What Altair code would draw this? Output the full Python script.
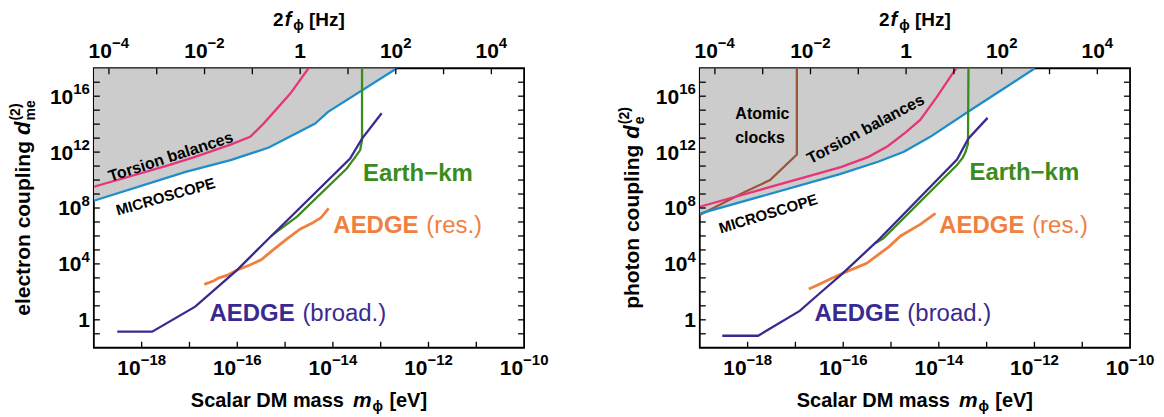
import altair as alt
import numpy as np
import pandas as pd

FONT = "Liberation Sans"

# ---------------- data (log10 values) ----------------
# left panel : electron coupling
L_micro_logm = [-19.0, -17.08, -16.14, -15.34, -14.37, -14.10, -12.66]
L_micro_logd = [8.52, 10.59, 11.42, 12.33, 14.04, 14.88, 18.0]
L_torsion_logm = [-19.0, -17.5, -16.93, -16.14, -15.73, -15.45, -15.17, -14.89, -14.51]
L_torsion_logd = [9.52, 11.0, 11.6, 12.54, 13.09, 14.04, 15.11, 16.19, 18.0]
L_earth_logm = [-15.3, -15.17, -14.75, -13.71, -13.53, -13.43, -13.39, -13.39]
L_earth_logd = [5.97, 6.31, 7.38, 10.83, 11.66, 12.14, 12.86, 18.0]
L_broad_logm = [-18.51, -17.78, -16.88, -16.0, -15.41, -13.64, -13.39, -12.98]
L_broad_logd = [-0.85, -0.85, 0.94, 3.57, 5.59, 11.54, 12.97, 14.78]
L_res_logm = [-16.69, -16.5, -16.38, -16.2, -16.0, -15.75, -15.5, -15.25, -14.96, -14.68, -14.44, -14.25, -14.09]
L_res_logd = [2.54, 2.78, 3.0, 3.2, 3.57, 3.9, 4.29, 5.0, 5.79, 6.5, 6.9, 7.3, 7.97]

# right panel : photon coupling
R_micro_logm = [-19.0, -16.07, -15.27, -14.73, -14.18, -13.38, -11.99]
R_micro_logd = [7.6, 10.42, 11.31, 12.02, 13.09, 14.9, 18.0]
R_torsion_logm = [-19.0, -16.05, -15.47, -15.07, -14.68, -14.39, -14.04, -13.69, -13.63]
R_torsion_logd = [8.09, 10.92, 11.66, 12.42, 13.45, 14.3, 15.95, 17.74, 18.0]
R_clocks_logm = [-19.0, -18.05, -17.53, -16.97, -16.97]
R_clocks_logd = [7.5, 9.16, 10.0, 11.83, 18.0]
R_earth_logm = [-15.32, -15.16, -13.62, -13.50, -13.44, -13.39, -13.38]
R_earth_logd = [5.5, 5.83, 11.07, 11.6, 12.02, 12.6, 18.0]
R_broad_logm = [-18.53, -17.78, -16.91, -16.49, -16.01, -15.30, -13.62, -13.38, -12.98]
R_broad_logd = [-1.14, -1.14, 0.64, 1.9, 3.33, 5.59, 11.47, 12.97, 14.45]
R_res_logm = [-16.72, -16.5, -16.25, -16.01, -15.75, -15.51, -15.25, -15.04, -14.8, -14.38, -14.07]
R_res_logd = [2.21, 2.55, 2.95, 3.33, 3.7, 4.04, 4.7, 5.24, 6.0, 6.85, 7.61]

# annotation anchors (log10 m, log10 d)
L_ann_text = ["Torsion balances", "MICROSCOPE", "Earth\u2212km"]
L_ann_logm = [-17.39, -17.5, -13.37]
L_ann_logd = [11.66, 8.81, 10.4]
R_ann_text = ["Atomic", "clocks", "Torsion balances", "MICROSCOPE", "Earth\u2212km"]
R_ann_logm = [-17.69, -17.74, -15.53, -17.57, -13.36]
R_ann_logd = [14.76, 13.02, 13.64, 7.59, 10.47]
L_aedge_logm = [-13.99, -16.58]   # (res.), (broad.) left edge
L_aedge_logd = [6.74, 0.4]
R_aedge_logm = [-13.99, -16.60]
R_aedge_logd = [6.74, 0.4]

# axes: tick values and label texts (base "10" + exponent)
x_tick_vals = [1e-18, 1e-16, 1e-14, 1e-12, 1e-10]
x_tick_exp = ["\u221218", "\u221216", "\u221214", "\u221212", "\u221210"]
f_tick_vals = [1e-4, 1e-2, 1.0, 1e2, 1e4]
f_tick_exp = ["\u22124", "\u22122", "", "2", "4"]
y_tick_vals = [1.0, 1e4, 1e8, 1e12, 1e16]
y_tick_exp = ["", "4", "8", "12", "16"]
x_minor_exp = list(range(-18, -10))
f_minor_exp = list(range(-4, 5))
y_minor_exp = list(range(-1, 18))

# axis titles: (text, font size, italic, baseline shift, gap before)
BOTTOM_TITLE = [("Scalar DM mass", 20, False, 0, 0), ("m", 21, True, 0, 9),
                ("\u03d5", 14, False, 4, 1), ("[eV]", 20, False, 0, 7)]
TOP_TITLE = [("2", 19, False, 0, 0), ("f", 20, True, 0, 1),
             ("\u03d5", 14, False, 4, 2), ("[Hz]", 19, False, 0, 6)]
L_YTITLE = ("electron coupling", "me")
R_YTITLE = ("photon coupling", "e")

TWO_OVER_H = 4.836e14   # 2 f [Hz] per eV of mass
W, H = 431, 280
BASE_FS, EXP_FS = 21, 15

C_PINK = "#e8357a"
C_BLUE = "#1f8dcc"
C_GREEN = "#3a8c1c"
C_DBLUE = "#3a2a8f"
C_ORANGE = "#f0803f"
C_BROWN = "#9e563a"

AW = {' ': 278, '(': 333, ')': 333, '2': 556, '[': 333, ']': 333, 'a': 556, 'c': 556, 'e': 556,
      'g': 611, 'h': 611, 'i': 278, 'l': 278, 'm': 889, 'n': 611, 'o': 611, 'p': 611, 'r': 389,
      's': 556, 't': 333, 'u': 611, 'd': 611, 'f': 333, 'S': 667, 'D': 722, 'M': 833, 'V': 667,
      'H': 722, 'z': 500, 'E': 667, '\u03d5': 700}


def tw(s, fs):
    return sum(AW.get(c, 556) for c in s) / 1000.0 * fs


DUMMY = pd.DataFrame({"a": [0]})


def stext(t, fs, x, y, italic=False, angle=0, weight="bold"):
    return alt.Chart(DUMMY).mark_text(text=t, font=FONT, fontSize=fs, fontWeight=weight,
                                      fontStyle="italic" if italic else "normal", color="black",
                                      align="left", baseline="alphabetic", angle=angle) \
        .encode(x=alt.value(x), y=alt.value(y))


def htitle(pieces, y_base, center_x):
    pos, cur = [], 0.0
    for (t, fs, it, sh, gap) in pieces:
        cur += gap
        pos.append(cur)
        cur += tw(t, fs)
    start = center_x - cur / 2
    return [stext(t, fs, start + p, y_base + sh, it) for (t, fs, it, sh, gap), p in zip(pieces, pos)]


def vtitle(main, sub, base_x):
    fs, dfs, sfs = 21, 22, 14
    w_main = tw(main, fs)
    w_d = tw("d", dfs)
    w_s = max(tw(sub, sfs), tw("(2)", sfs))
    total = w_main + 6 + w_d + 1 + w_s
    y0 = H / 2 + total / 2
    out = [stext(main, fs, base_x, y0, angle=270),
           stext("d", dfs, base_x, y0 - w_main - 6, italic=True, angle=270),
           stext(sub, sfs, base_x + 5, y0 - w_main - 6 - w_d - 1, angle=270),
           stext("(2)", sfs, base_x - 10, y0 - w_main - 6 - w_d - 1, angle=270)]
    return out


def df_line(lm, ld):
    return pd.DataFrame({"m": 10.0 ** np.array(lm), "d": 10.0 ** np.array(ld),
                         "i": list(range(len(lm))), "top": 1e18})


def label_layers(df, xenc=None, yenc=None, xval=None, yval=None, base_dx=0, base_dy=0,
                 exp_dy=0, base_align="right", exp_dx=0):
    enc_b = {"text": "base:N"}
    enc_e = {"text": "exp:N"}
    if xenc is not None:
        enc_b["x"] = xenc
        enc_e["x"] = xenc
    if yenc is not None:
        enc_b["y"] = yenc
        enc_e["y"] = yenc
    if xval is not None:
        enc_b["x"] = alt.value(xval[0])
        enc_e["x"] = alt.value(xval[1])
    if yval is not None:
        enc_b["y"] = alt.value(yval[0])
        enc_e["y"] = alt.value(yval[1])
    b = alt.Chart(df).mark_text(font=FONT, fontSize=BASE_FS, fontWeight="bold", color="black",
                                align=base_align, baseline="alphabetic", dx=base_dx, dy=base_dy).encode(**enc_b)
    e = alt.Chart(df).mark_text(font=FONT, fontSize=EXP_FS, fontWeight="bold", color="black",
                                align="left", baseline="alphabetic", dx=exp_dx, dy=exp_dy).encode(**enc_e)
    return [b, e]


def panel(ytitle, micro, torsion, earth, broad, res, clocks,
          ann_text, ann_logm, ann_logd, aedge_logm, aedge_logd, tor_angle, mic_angle, ytx):
    xs = alt.Scale(type="log", domain=[1e-19, 1e-10], nice=False)
    ys = alt.Scale(type="log", domain=[1e-2, 1e18], nice=False)
    X = alt.X("m:Q", scale=xs, axis=None)
    Y = alt.Y("d:Q", scale=ys, axis=None)

    layers = []
    layers.append(alt.Chart(df_line(*micro)).mark_area(color="#cccccc", clip=True)
                  .encode(x=X, y=Y, y2=alt.Y2("top:Q")))

    def line(data, color, sw=2.3):
        return alt.Chart(df_line(*data)).mark_line(color=color, strokeWidth=sw, clip=True) \
            .encode(x=X, y=Y, order="i:Q")

    if clocks is not None:
        layers.append(line(clocks, C_BROWN))
    layers.append(line(torsion, C_PINK))
    layers.append(line(micro, C_BLUE))
    layers.append(line(res, C_ORANGE, 2.8))
    layers.append(line(earth, C_GREEN))
    layers.append(line(broad, C_DBLUE))

    def text(t, lm, ld, color, size, angle=0, weight="bold", align="center", dx=0):
        df = pd.DataFrame({"m": [10.0 ** lm], "d": [10.0 ** ld], "t": [t]})
        return alt.Chart(df).mark_text(font=FONT, fontSize=size, fontWeight=weight, color=color,
                                       angle=angle, align=align, baseline="middle", dx=dx) \
            .encode(x=X, y=Y, text="t:N")

    for t, lm, ld in zip(ann_text, ann_logm, ann_logd):
        if t == "Torsion balances":
            layers.append(text(t, lm, ld, "black", 16, tor_angle))
        elif t == "MICROSCOPE":
            layers.append(text(t, lm, ld, "black", 15, mic_angle))
        elif t.startswith("Earth"):
            layers.append(text(t, lm, ld, C_GREEN, 24, align="left"))
        else:
            layers.append(text(t, lm, ld, "black", 16))
    layers.append(text("AEDGE", aedge_logm[0], aedge_logd[0], C_ORANGE, 24, align="left"))
    layers.append(text("AEDGE", aedge_logm[1], aedge_logd[1], C_DBLUE, 24, align="left"))
    layers.append(text("(res.)", aedge_logm[0], aedge_logd[0], C_ORANGE, 24, weight="normal",
                       align="left", dx=93))
    layers.append(text("(broad.)", aedge_logm[1], aedge_logd[1], C_DBLUE, 24, weight="normal",
                       align="left", dx=93))

    # inside ticks
    xt = pd.DataFrame({"m": [10.0 ** k for k in x_minor_exp]})
    yt = pd.DataFrame({"d": [10.0 ** k for k in y_minor_exp]})
    layers.append(alt.Chart(xt).mark_rule(color="black", strokeWidth=1.3)
                  .encode(x=X, y=alt.value(H), y2=alt.value(H - 6)))
    layers.append(alt.Chart(yt).mark_rule(color="black", strokeWidth=1.3)
                  .encode(y=Y, x=alt.value(0), x2=alt.value(6)))
    layers.append(alt.Chart(yt).mark_rule(color="black", strokeWidth=1.3)
                  .encode(y=Y, x=alt.value(W - 6), x2=alt.value(W)))

    # bottom tick labels
    xl = pd.DataFrame({"m": x_tick_vals, "base": "10", "exp": x_tick_exp})
    layers += label_layers(xl, xenc=X, yval=(H + 27.5, H + 17), base_dx=-1, exp_dx=-1)
    # left tick labels
    yl = pd.DataFrame({"d": y_tick_vals, "base": ["1" if e == "" else "10" for e in y_tick_exp],
                       "exp": y_tick_exp, "n": [len(e) for e in y_tick_exp]})
    for n in sorted(set(yl["n"])):
        sub = yl[yl["n"] == n]
        ew = n * 0.556 * EXP_FS
        layers += label_layers(sub, yenc=Y, xval=(-4 - ew, -4 - ew), base_dy=7.5, exp_dy=-2)

    # axis titles
    layers += htitle(BOTTOM_TITLE, H + 59.7, W / 2)
    layers += htitle(TOP_TITLE, -42.5, W / 2)
    layers += vtitle(ytitle[0], ytitle[1], ytx)
    inner = alt.layer(*layers)

    # top axis (2 f_phi)
    F = alt.X("f2:Q", scale=alt.Scale(type="log", domain=[1e-19 * TWO_OVER_H, 1e-10 * TWO_OVER_H], nice=False),
              axis=None)
    ft = pd.DataFrame({"f2": [10.0 ** k for k in f_minor_exp]})
    tops = [alt.Chart(ft).mark_rule(color="black", strokeWidth=1.3).encode(
        x=F, y=alt.value(0), y2=alt.value(6))]
    fl = pd.DataFrame({"f2": f_tick_vals, "base": ["1" if e == "" else "10" for e in f_tick_exp],
                       "exp": f_tick_exp})
    one = fl[fl["exp"] == ""]
    neg = fl[fl["exp"].str.startswith("\u2212")]
    pos = fl[(fl["exp"] != "") & (~fl["exp"].str.startswith("\u2212"))]
    tops += label_layers(one, xenc=F, yval=(-10.5, -20), base_align="center")[:1]
    tops += label_layers(neg, xenc=F, yval=(-10.5, -20), base_dx=3, exp_dx=3)
    tops += label_layers(pos, xenc=F, yval=(-10.5, -20), base_dx=7.5, exp_dx=7.5)
    top = alt.layer(*tops)
    return alt.layer(inner, top).resolve_scale(x="independent").properties(width=W, height=H)


left = panel(L_YTITLE,
             (L_micro_logm, L_micro_logd), (L_torsion_logm, L_torsion_logd),
             (L_earth_logm, L_earth_logd), (L_broad_logm, L_broad_logd),
             (L_res_logm, L_res_logd), None,
             L_ann_text, L_ann_logm, L_ann_logd, L_aedge_logm, L_aedge_logd, 342, 344, -63.5)
right = panel(R_YTITLE,
              (R_micro_logm, R_micro_logd), (R_torsion_logm, R_torsion_logd),
              (R_earth_logm, R_earth_logd), (R_broad_logm, R_broad_logd),
              (R_res_logm, R_res_logd), (R_clocks_logm, R_clocks_logd),
              R_ann_text, R_ann_logm, R_ann_logd, R_aedge_logm, R_aedge_logd, 332, 343, -61)

chart = alt.hconcat(left, right, spacing=176, bounds="flush").properties(
    padding={"left": 0, "right": 0, "top": 0, "bottom": 0}
).configure_view(stroke="black", strokeWidth=1.8)

chart.save("out.html", embed_options={"renderer": "svg", "actions": False})
